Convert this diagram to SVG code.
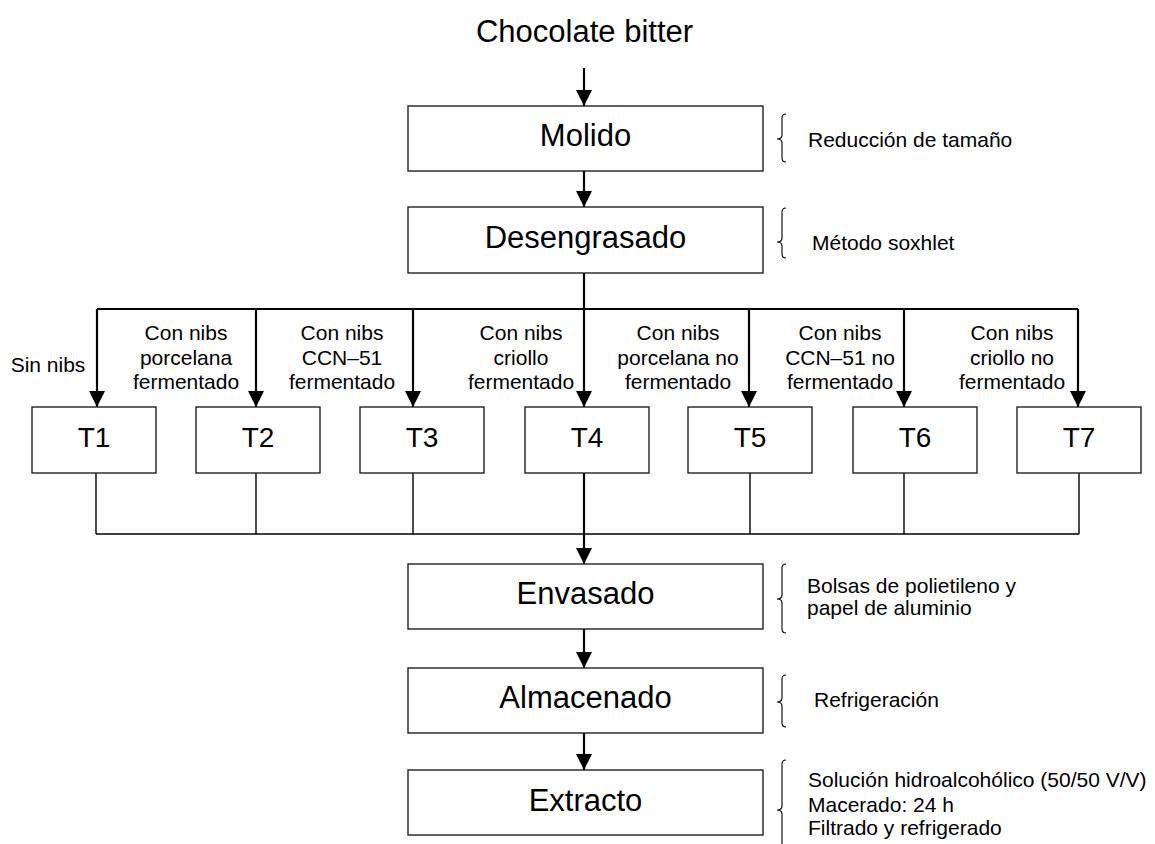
<svg xmlns="http://www.w3.org/2000/svg" width="1155" height="844" viewBox="0 0 1155 844">
<style>
  text { font-family: "Liberation Sans", Arial, sans-serif; fill: #000; }
  .big { font-size: 31px; text-anchor: middle; }
  .tl { font-size: 28px; text-anchor: middle; }
  .lab { font-size: 21px; text-anchor: middle; }
  .note { font-size: 21px; }
  .box { fill: #fff; stroke: #222; stroke-width: 1.4; }
  .thick { fill: none; stroke: #000; stroke-width: 2.2; }
  .thin { fill: none; stroke: #000; stroke-width: 1.4; }
  .brace { fill: none; stroke: #000; stroke-width: 1.1; }
</style>
<defs>
  <marker id="ah" markerUnits="userSpaceOnUse" markerWidth="16" markerHeight="16" refX="16" refY="8" orient="auto">
    <path d="M0,0 L16,8 L0,16 z" fill="#000"/>
  </marker>
</defs>

<text id="title" class="big" x="584.5" y="42">Chocolate bitter</text>

<g id="connectors">
  <path class="thick" d="M584,68 V106" marker-end="url(#ah)"/>
  <path class="thick" d="M584,171 V207" marker-end="url(#ah)"/>
  <path class="thick" d="M584,273 V309"/>
  <path class="thick" d="M97,309 H1078"/>
  <path class="thick" d="M97,309 V407" marker-end="url(#ah)"/>
  <path class="thick" d="M256,309 V407" marker-end="url(#ah)"/>
  <path class="thick" d="M413,309 V407" marker-end="url(#ah)"/>
  <path class="thick" d="M584,309 V407" marker-end="url(#ah)"/>
  <path class="thick" d="M749,309 V407" marker-end="url(#ah)"/>
  <path class="thick" d="M904,309 V407" marker-end="url(#ah)"/>
  <path class="thick" d="M1078,309 V407" marker-end="url(#ah)"/>
  <path class="thin" d="M96,473 V534 M256,473 V534 M413,473 V534 M750,473 V534 M904,473 V534 M1079,473 V534 M96,534 H1079"/>
  <path class="thick" d="M584,473 V564" marker-end="url(#ah)"/>
  <path class="thick" d="M584,629 V668" marker-end="url(#ah)"/>
  <path class="thick" d="M584,733 V770" marker-end="url(#ah)"/>
</g>

<g id="molido">
  <rect class="box" x="408" y="106" width="355" height="65"/>
  <text class="big" x="585.5" y="146">Molido</text>
</g>
<g id="desengrasado">
  <rect class="box" x="408" y="207" width="355" height="66"/>
  <text class="big" x="585.5" y="248">Desengrasado</text>
</g>

<g id="t1"><rect class="box" x="32" y="407" width="124" height="66"/><text class="tl" x="94" y="447">T1</text></g>
<g id="t2"><rect class="box" x="196" y="407" width="124" height="66"/><text class="tl" x="258" y="447">T2</text></g>
<g id="t3"><rect class="box" x="360" y="407" width="124" height="66"/><text class="tl" x="422" y="447">T3</text></g>
<g id="t4"><rect class="box" x="525" y="407" width="124" height="66"/><text class="tl" x="587" y="447">T4</text></g>
<g id="t5"><rect class="box" x="688" y="407" width="124" height="66"/><text class="tl" x="750" y="447">T5</text></g>
<g id="t6"><rect class="box" x="853" y="407" width="124" height="66"/><text class="tl" x="915" y="447">T6</text></g>
<g id="t7"><rect class="box" x="1017" y="407" width="124" height="66"/><text class="tl" x="1079" y="447">T7</text></g>

<g id="envasado">
  <rect class="box" x="408" y="564" width="355" height="65"/>
  <text class="big" x="585.5" y="604">Envasado</text>
</g>
<g id="almacenado">
  <rect class="box" x="408" y="668" width="355" height="65"/>
  <text class="big" x="585.5" y="708">Almacenado</text>
</g>
<g id="extracto">
  <rect class="box" x="408" y="770" width="355" height="65"/>
  <text class="big" x="585.5" y="811">Extracto</text>
</g>

<g id="branch-labels">
  <text class="lab" x="48" y="372">Sin nibs</text>
  <text class="lab" x="186" y="340">Con nibs</text>
  <text class="lab" x="186" y="364.5">porcelana</text>
  <text class="lab" x="186" y="389">fermentado</text>
  <text class="lab" x="342" y="340">Con nibs</text>
  <text class="lab" x="342" y="364.5">CCN–51</text>
  <text class="lab" x="342" y="389">fermentado</text>
  <text class="lab" x="521" y="340">Con nibs</text>
  <text class="lab" x="521" y="364.5">criollo</text>
  <text class="lab" x="521" y="389">fermentado</text>
  <text class="lab" x="678" y="340">Con nibs</text>
  <text class="lab" x="678" y="364.5">porcelana no</text>
  <text class="lab" x="678" y="389">fermentado</text>
  <text class="lab" x="840" y="340">Con nibs</text>
  <text class="lab" x="840" y="364.5">CCN–51 no</text>
  <text class="lab" x="840" y="389">fermentado</text>
  <text class="lab" x="1012" y="340">Con nibs</text>
  <text class="lab" x="1012" y="364.5">criollo no</text>
  <text class="lab" x="1012" y="389">fermentado</text>
</g>

<g id="notes">
  <path class="brace" d="M786,114 Q782,114 782,118 V135 Q782,139 777,139 Q782,139 782,143 V158 Q782,162 786,162"/>
  <text class="note" x="808" y="147">Reducción de tamaño</text>
  <path class="brace" d="M786,208 Q782,208 782,212 V238 Q782,242 777,242 Q782,242 782,246 V254 Q782,258 786,258"/>
  <text class="note" x="812" y="250">Método soxhlet</text>
  <path class="brace" d="M786,564 Q782,564 782,568 V595 Q782,599 777,599 Q782,599 782,603 V629 Q782,633 786,633"/>
  <text class="note" x="807" y="593">Bolsas de polietileno y</text>
  <text class="note" x="807" y="615">papel de aluminio</text>
  <path class="brace" d="M786,675 Q782,675 782,679 V698 Q782,702 777,702 Q782,702 782,706 V723 Q782,727 786,727"/>
  <text class="note" x="814" y="707">Refrigeración</text>
  <path class="brace" d="M786,760 Q782,760 782,764 V806 Q782,810 777,810 Q782,810 782,814 V856 Q782,860 786,860"/>
  <text class="note" x="808" y="787">Solución hidroalcohólico (50/50 V/V)</text>
  <text class="note" x="808" y="812">Macerado: 24 h</text>
  <text class="note" x="808" y="835">Filtrado y refrigerado</text>
</g>
</svg>
